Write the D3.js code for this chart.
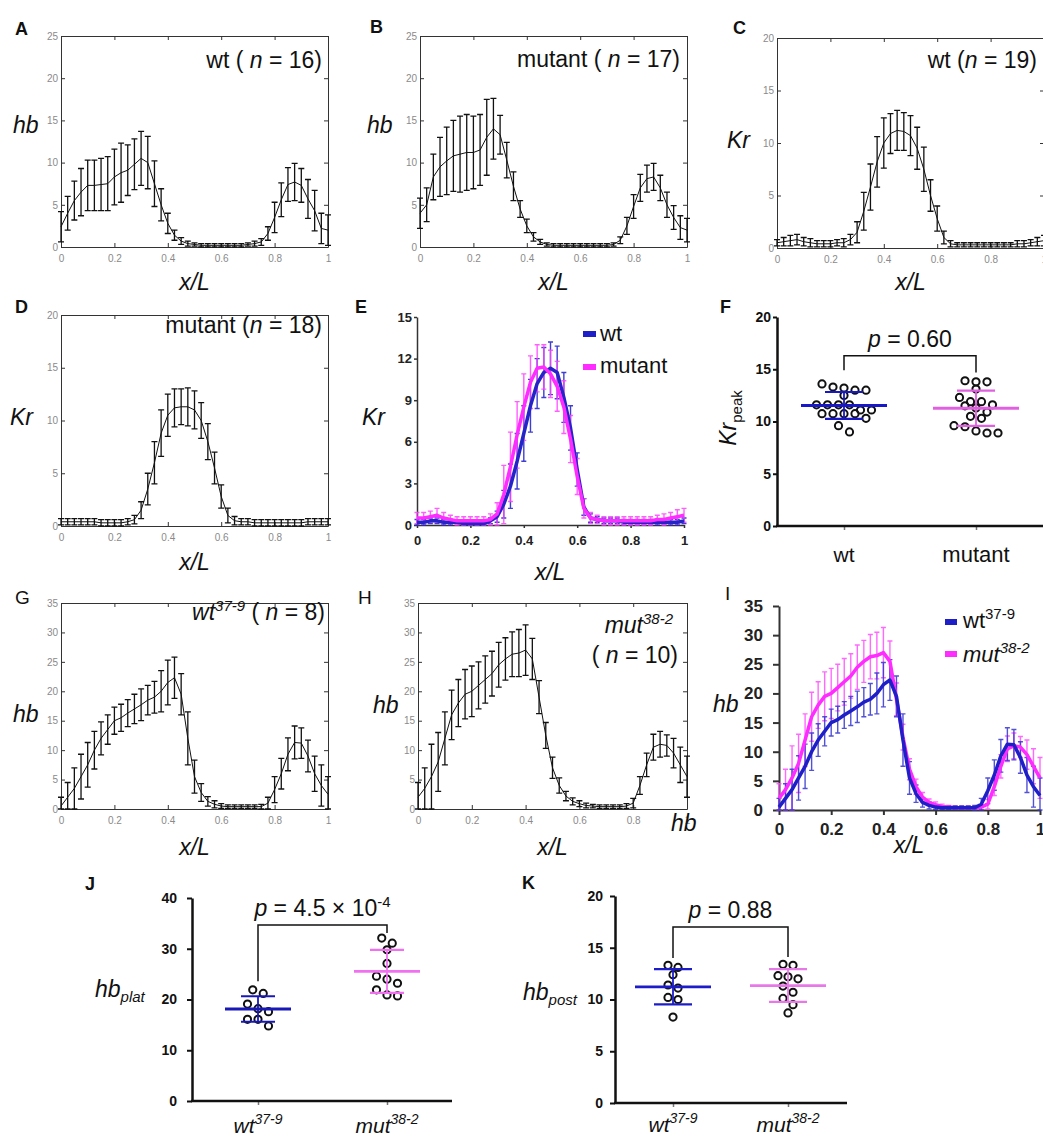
<!DOCTYPE html>
<html>
<head>
<meta charset="utf-8">
<script src="https://cdn.jsdelivr.net/npm/d3@7"></script>
<style>
  body { margin: 0; background: #fff; }
  svg { display: block; font-family: "Liberation Sans", Arial, sans-serif; }
  text { white-space: pre; }
</style>
</head>
<body>
<svg id="fig" width="1043" height="1137"></svg>
<script>
// bin positions along the embryo (x/L)
var xBins = [0, 0.025, 0.05, 0.075, 0.1, 0.125, 0.15, 0.175, 0.2, 0.225, 0.25, 0.275, 0.3, 0.325, 0.35, 0.375, 0.4, 0.425, 0.45, 0.475,
             0.5, 0.525, 0.55, 0.575, 0.6, 0.625, 0.65, 0.675, 0.7, 0.725, 0.75, 0.775, 0.8, 0.825, 0.85, 0.875, 0.9, 0.925, 0.95, 0.975, 1]

var xTicks = [0, 0.2, 0.4, 0.6, 0.8, 1],
    ticks25 = [0, 5, 10, 15, 20, 25],
    ticks20 = [0, 5, 10, 15, 20],
    ticks15 = [0, 3, 6, 9, 12, 15],
    ticks35 = [0, 5, 10, 15, 20, 25, 30, 35],
    ticks40 = [0, 10, 20, 30, 40]

// A: hb, wt (n = 16)
var hbWtMean = [2.4, 4.0, 5.5, 6.5, 7.3, 7.3, 7.4, 7.5, 8.3, 8.8, 9.1, 9.8, 10.5, 10.0, 7.5, 5.0, 2.8, 1.4, 0.7, 0.4,
                0.3, 0.2, 0.2, 0.2, 0.2, 0.2, 0.2, 0.2, 0.3, 0.4, 0.6, 1.6, 3.5, 5.6, 7.4, 7.7, 7.3, 5.7, 4.3, 2.2, 2.0]
var hbWtSd = [1.8, 2.0, 2.3, 2.8, 3.0, 3.0, 3.1, 3.2, 3.3, 3.5, 3.0, 3.0, 3.2, 3.1, 2.7, 1.9, 1.2, 0.6, 0.4, 0.3,
              0.2, 0.2, 0.2, 0.2, 0.2, 0.2, 0.2, 0.2, 0.2, 0.3, 0.4, 0.8, 1.8, 2.0, 2.0, 2.2, 2.0, 2.3, 2.4, 1.8, 1.8]
// B: hb, mutant (n = 17)
var hbMutMean = [4.0, 5.0, 8.3, 9.5, 10.2, 10.8, 11.0, 11.2, 11.2, 11.5, 13.0, 14.0, 13.3, 10.3, 7.2, 4.5, 2.5, 1.2, 0.6, 0.3,
                 0.2, 0.2, 0.2, 0.2, 0.2, 0.2, 0.2, 0.2, 0.2, 0.3, 0.8, 2.5, 4.8, 7.0, 8.1, 8.3, 7.0, 5.0, 3.5, 2.3, 2.0]
var hbMutSd = [1.8, 2.0, 2.7, 3.5, 4.0, 4.2, 4.5, 4.5, 4.3, 4.2, 4.5, 3.6, 2.3, 2.1, 1.7, 1.0, 0.8, 0.5, 0.3, 0.2,
               0.2, 0.2, 0.2, 0.2, 0.2, 0.2, 0.2, 0.2, 0.2, 0.2, 0.4, 1.0, 1.4, 1.6, 1.6, 1.6, 1.5, 1.5, 1.4, 1.4, 1.4]
// C: Kr, wt (n = 19)
var krWtMean = [0.5, 0.6, 0.7, 0.8, 0.6, 0.5, 0.4, 0.4, 0.4, 0.5, 0.5, 0.8, 1.5, 3.5, 5.8, 8.2, 10.0, 10.9, 11.2, 11.1,
                10.7, 9.5, 7.5, 5.0, 2.8, 1.0, 0.4, 0.3, 0.3, 0.3, 0.3, 0.3, 0.3, 0.3, 0.3, 0.3, 0.4, 0.4, 0.5, 0.6, 0.7]
var krWtSd = [0.3, 0.4, 0.5, 0.5, 0.4, 0.4, 0.3, 0.3, 0.3, 0.3, 0.4, 0.5, 1.0, 1.8, 2.2, 2.4, 2.4, 1.9, 1.9, 1.8,
              1.9, 2.0, 2.1, 1.5, 1.2, 0.6, 0.3, 0.2, 0.2, 0.2, 0.2, 0.2, 0.2, 0.2, 0.2, 0.2, 0.3, 0.3, 0.3, 0.4, 0.5]
// D: Kr, mutant (n = 18)
var krMutMean = [0.4, 0.4, 0.4, 0.4, 0.4, 0.4, 0.3, 0.3, 0.3, 0.3, 0.4, 0.6, 1.5, 3.5, 6.0, 8.8, 10.5, 11.2, 11.3, 11.3,
                 11.0, 10.0, 8.0, 5.5, 2.8, 1.0, 0.5, 0.4, 0.4, 0.3, 0.3, 0.3, 0.3, 0.3, 0.3, 0.3, 0.3, 0.4, 0.4, 0.4, 0.4]
var krMutSd = [0.3, 0.3, 0.3, 0.3, 0.3, 0.3, 0.3, 0.3, 0.3, 0.3, 0.3, 0.4, 0.8, 1.5, 2.0, 2.2, 2.0, 1.8, 1.7, 1.8,
               1.8, 1.7, 1.7, 1.5, 1.1, 0.7, 0.4, 0.3, 0.3, 0.3, 0.3, 0.3, 0.3, 0.3, 0.3, 0.3, 0.3, 0.3, 0.3, 0.3, 0.3]
// E: Kr overlay
var eWtMean = [0.2, 0.2, 0.3, 0.3, 0.2, 0.2, 0.2, 0.1, 0.1, 0.1, 0.1, 0.3, 0.6, 1.5, 2.8, 4.6, 6.6, 8.6, 10.2, 11.0,
               11.3, 11.0, 9.2, 7.0, 4.0, 1.3, 0.5, 0.4, 0.3, 0.3, 0.3, 0.2, 0.2, 0.2, 0.2, 0.2, 0.2, 0.2, 0.2, 0.2, 0.3]
var eWtSd = [0.2, 0.2, 0.2, 0.2, 0.2, 0.2, 0.1, 0.1, 0.1, 0.1, 0.1, 0.2, 0.4, 1.0, 1.6, 2.0, 2.0, 1.9, 1.8, 1.8,
             1.9, 1.9, 1.8, 1.6, 1.2, 0.6, 0.3, 0.2, 0.2, 0.2, 0.2, 0.2, 0.2, 0.2, 0.2, 0.2, 0.2, 0.2, 0.2, 0.2, 0.2]
var eMutMean = [0.5, 0.5, 0.6, 0.7, 0.5, 0.4, 0.3, 0.3, 0.3, 0.3, 0.3, 0.4, 0.8, 2.2, 4.2, 6.5, 8.5, 10.3, 11.3, 11.4,
                10.9, 10.0, 8.5, 6.2, 3.5, 1.2, 0.5, 0.4, 0.3, 0.3, 0.3, 0.3, 0.3, 0.3, 0.3, 0.3, 0.4, 0.4, 0.5, 0.6, 0.7]
var eMutSd = [0.4, 0.4, 0.4, 0.5, 0.4, 0.3, 0.3, 0.3, 0.3, 0.3, 0.3, 0.4, 0.8, 2.1, 2.5, 2.4, 2.4, 1.9, 1.7, 1.6,
              1.7, 1.8, 1.9, 1.7, 1.3, 0.7, 0.4, 0.3, 0.3, 0.3, 0.3, 0.3, 0.3, 0.3, 0.3, 0.3, 0.3, 0.4, 0.4, 0.5, 0.5]
// G: hb, wt37-9 (n = 8)
var hbWt379Mean = [0.5, 2.0, 3.5, 5.5, 7.5, 10.0, 12.0, 13.5, 15.0, 15.5, 16.3, 17.0, 17.7, 18.5, 19.0, 20.0, 21.5, 22.3, 19.5, 12.0,
                   5.5, 2.8, 1.3, 0.8, 0.5, 0.4, 0.4, 0.4, 0.4, 0.4, 0.4, 1.0, 3.3, 6.0, 9.3, 11.3, 11.2, 9.0, 6.0, 4.0, 2.5]
var hbWt379Sd = [1.5, 2.5, 3.5, 3.8, 3.8, 3.2, 2.8, 2.5, 2.3, 2.3, 2.3, 2.5, 2.7, 2.5, 2.7, 3.5, 3.8, 3.5, 3.5, 4.5,
                 2.8, 1.5, 0.8, 0.6, 0.4, 0.3, 0.3, 0.3, 0.3, 0.3, 0.4, 1.0, 2.2, 2.6, 2.8, 2.8, 2.6, 2.7, 3.0, 3.5, 3.0]
// H: hb, mut38-2 (n = 10)
var hbMut382Mean = [2.0, 3.5, 5.5, 8.0, 12.0, 16.0, 18.0, 19.5, 20.0, 21.0, 22.0, 23.0, 24.5, 25.5, 26.3, 26.5, 27.0, 25.5, 19.0, 12.5,
                    7.0, 4.0, 2.2, 1.3, 0.9, 0.6, 0.5, 0.4, 0.4, 0.4, 0.4, 0.5, 1.0, 4.0, 7.5, 10.5, 11.0, 10.8, 9.5, 7.5, 5.5]
var hbMut382Sd = [2.5, 3.5, 5.5, 5.0, 4.5, 4.2, 4.0, 4.2, 4.3, 4.0, 4.0, 3.8, 3.8, 3.6, 3.8, 4.0, 4.3, 3.5, 2.8, 2.2,
                  1.8, 1.3, 0.8, 0.6, 0.5, 0.4, 0.3, 0.3, 0.3, 0.3, 0.3, 0.4, 0.8, 1.5, 2.0, 2.2, 2.2, 1.8, 2.5, 3.0, 3.5]

// F, J, K: per-embryo values
var krPeakWt = [13.2, 13.0, 13.6, 13.0, 13.3, 12.5, 11.6, 11.6, 11.6, 11.6, 11.1, 11.1, 10.75, 10.75, 10.75, 10.75, 10.3, 9.6, 9.0]
var krPeakMut = [13.8, 13.9, 13.8, 13.1, 12.3, 11.9, 11.9, 11.5, 11.3, 11.6, 10.5, 10.9, 10.3, 9.6, 9.1, 8.9, 8.9, 9.5]
var hbPlatWt = [21.2, 21.9, 18.2, 19.1, 17.6, 16.1, 16.1, 14.8]
var hbPlatMut = [32.1, 31.1, 29.8, 27.1, 24.6, 24.0, 23.2, 21.9, 20.7, 20.9]
var hbPostWt = [13.1, 13.3, 12.4, 11.1, 11.4, 10.2, 10.0, 8.3]
var hbPostMut = [13.3, 13.4, 12.2, 12.3, 12.0, 10.7, 11.3, 10.1, 9.5, 8.7]

var svg = d3.select('#fig'),
    font = '"Liberation Sans", Arial, sans-serif',
    blue = '#1f1fc8', magenta = '#ff2cff',
    plain = function (d) { return String(d) }

// parts: [text, italic, size, dy]
function rich(parent, x, y, size, parts, anchor) {
    var t = parent.append('text').attr('x', x).attr('y', y).attr('font-size', size)
        .attr('text-anchor', anchor || 'start').attr('fill', '#111')
    parts.forEach(function (p) {
        var s = t.append('tspan').text(p[0])
        if (p[1]) s.attr('font-style', 'italic')
        if (p[2]) s.attr('font-size', p[2])
        if (p[3]) s.attr('dy', p[3])
    })
    return t
}

function letter(txt, x, y, bold) {
    rich(svg, x, y, bold ? 18 : 19, [[txt]]).attr('font-weight', bold ? 'bold' : 'normal')
}

function errorBars(g, x, y, mean, sd, color, cap, width, opacity) {
    g.append('g').attr('stroke', color).attr('stroke-width', width).attr('opacity', opacity || 1).attr('fill', 'none')
        .selectAll('path').data(mean).join('path')
        .attr('d', function (m, i) {
            var cx = x(xBins[i]), lo = y(m - sd[i]), hi = y(m + sd[i])
            return 'M' + (cx - cap) + ',' + hi + 'H' + (cx + cap) + 'M' + cx + ',' + hi + 'V' + lo +
                'M' + (cx - cap) + ',' + lo + 'H' + (cx + cap)
        })
}

function meanLine(g, x, y, mean, color, width) {
    g.append('path').datum(mean).attr('fill', 'none').attr('stroke', color).attr('stroke-width', width)
        .attr('stroke-linejoin', 'round')
        .attr('d', d3.line().x(function (d, i) { return x(xBins[i]) }).y(function (d) { return y(d) }))
}

// MATLAB style box panel (A-D, G, H)
function profilePanel(o) {
    var x = d3.scaleLinear().domain([0, 1]).range([o.left, o.right]),
        y = d3.scaleLinear().domain([0, o.ymax]).range([o.bottom, o.top]).clamp(true),
        g = svg.append('g')

    var axes = [
        [d3.axisBottom(x).tickValues(xTicks).tickFormat(plain).tickPadding(8), 'translate(0,' + o.bottom + ')'],
        [d3.axisTop(x).tickValues(xTicks).tickFormat(''), 'translate(0,' + o.top + ')'],
        [d3.axisLeft(y).tickValues(o.yTicks).tickFormat(plain).tickPadding(3), 'translate(' + o.left + ',0)'],
        [d3.axisRight(y).tickValues(o.yTicks).tickFormat(''), 'translate(' + o.right + ',0)']
    ]
    axes.forEach(function (a) {
        var ax = g.append('g').attr('transform', a[1]).call(a[0].tickSize(-4).tickSizeOuter(0))
        ax.attr('font-family', font).attr('font-size', 10)
        ax.select('.domain').attr('stroke', '#333')
        ax.selectAll('.tick line').attr('stroke', '#333')
        ax.selectAll('.tick text').attr('fill', '#8a8a8a')
    })

    errorBars(g, x, y, o.mean, o.sd, '#111', 3, 1.3)
    meanLine(g, x, y, o.mean, '#111', 1)

    rich(svg, o.yLabel[1], o.yLabel[2], 23, [[o.yLabel[0], 1]])
    rich(svg, (o.left + o.right) / 2, o.xLabelY, 23, [['x/L', 1]], 'middle')
}

// overlay panel with two coloured series (E, I)
function overlayPanel(o) {
    var x = d3.scaleLinear().domain([0, 1]).range([o.left, o.right]),
        y = d3.scaleLinear().domain([0, o.ymax]).range([o.bottom, o.top]).clamp(true),
        g = svg.append('g')

    var left = g.append('g').attr('transform', 'translate(' + o.left + ',0)')
        .call(d3.axisLeft(y).tickValues(o.yTicks).tickFormat(plain).tickSize(o.tickY).tickSizeOuter(0).tickPadding(o.padY))
    var bottom = g.append('g').attr('transform', 'translate(0,' + o.bottom + ')')
        .call(d3.axisBottom(x).tickValues(xTicks).tickFormat(plain).tickSize(o.tickX).tickSizeOuter(0).tickPadding(o.padX))
    ;[left, bottom].forEach(function (ax) {
        ax.attr('font-family', font).attr('font-size', o.fs).attr('font-weight', 'bold')
        ax.select('.domain').attr('stroke', '#333').attr('stroke-width', o.axisW)
        ax.selectAll('.tick line').attr('stroke', '#333').attr('stroke-width', o.axisW)
        ax.selectAll('.tick text').attr('fill', '#222')
    })

    o.bars.forEach(function (b) { errorBars(g, x, y, b[0], b[1], b[2], 2.5, 1.4, b[3]) })
    o.lines.forEach(function (l) { meanLine(g, x, y, l[0], l[1], 3.5) })
}

// scatter dot panel with mean +/- SD (F, J, K)
function swarm(values, y, gap, step) {
    var rows = [], out = []
    values.slice().sort(d3.descending).forEach(function (v) {
        var row = rows[rows.length - 1]
        if (row && y(v) - y(row[0]) < gap) row.push(v)
        else rows.push([v])
    })
    rows.forEach(function (row) {
        row.forEach(function (v, j) { out.push({ v: v, dx: (j - (row.length - 1) / 2) * step }) })
    })
    return out
}

function dotPanel(o) {
    var y = d3.scaleLinear().domain([0, o.ymax]).range([o.bottom, o.top]),
        x = d3.scalePoint().domain(o.cats.map(function (c) { return c.name })).range([o.c0, o.c1]),
        g = svg.append('g')

    var left = g.append('g').attr('transform', 'translate(' + o.left + ',0)')
        .call(d3.axisLeft(y).tickValues(o.yTicks).tickSize(o.tick).tickSizeOuter(0).tickPadding(o.pad))
    left.attr('font-family', font).attr('font-size', o.fs).attr('font-weight', 'bold')
    left.select('.domain').attr('stroke', '#111').attr('stroke-width', 2.5)
    left.selectAll('.tick line').attr('stroke', '#111').attr('stroke-width', 2)
    left.selectAll('.tick text').attr('fill', '#111')

    var bottom = g.append('g').attr('transform', 'translate(0,' + o.bottom + ')')
        .call(d3.axisBottom(x).tickSize(4).tickFormat(''))
    bottom.select('.domain').remove()
    bottom.selectAll('.tick line').attr('stroke', '#777').attr('stroke-width', 1.5)
    g.append('line').attr('x1', o.left - 1).attr('x2', o.right).attr('y1', o.bottom).attr('y2', o.bottom)
        .attr('stroke', '#111').attr('stroke-width', 2.5)

    o.cats.forEach(function (c) {
        var cx = x(c.name), m = d3.mean(c.values), s = d3.deviation(c.values)
        g.append('g').selectAll('circle').data(swarm(c.values, y, 8, o.step)).join('circle')
            .attr('cx', function (d) { return cx + d.dx }).attr('cy', function (d) { return y(d.v) })
            .attr('r', 3.6).attr('fill', 'none').attr('stroke', '#111').attr('stroke-width', 2)
        var sg = g.append('g').attr('stroke', c.color).attr('fill', 'none')
        sg.append('line').attr('x1', cx - o.meanHalf).attr('x2', cx + o.meanHalf).attr('y1', y(m)).attr('y2', y(m)).attr('stroke-width', 2.8)
        ;[m + s, m - s].forEach(function (v) {
            sg.append('line').attr('x1', cx - o.sdHalf).attr('x2', cx + o.sdHalf).attr('y1', y(v)).attr('y2', y(v)).attr('stroke-width', 2.2)
        })
        sg.append('line').attr('x1', cx).attr('x2', cx).attr('y1', y(m + s)).attr('y2', y(m - s)).attr('stroke-width', 1.8)
        rich(svg, cx, o.labelY, c.size, c.label, 'middle')
    })

    var b = o.bracket, x0 = x(o.cats[0].name), x1 = x(o.cats[1].name)
    g.append('path').attr('fill', 'none').attr('stroke', '#111').attr('stroke-width', 1.5)
        .attr('d', 'M' + x0 + ',' + y(b[1]) + 'V' + y(b[0]) + 'H' + x1 + 'V' + y(b[2]))
    rich(svg, (x0 + x1) / 2, y(b[0]) - 9, 23, o.pText, 'middle')
}

// ---- A ----
letter('A', 15, 35, true)
profilePanel({ left: 61, right: 328, top: 36, bottom: 247, ymax: 25, yTicks: ticks25,
    mean: hbWtMean, sd: hbWtSd, yLabel: ['hb', 13, 133], xLabelY: 290 })
rich(svg, 322, 68, 23, [['wt ( '], ['n', 1], [' = 16)']], 'end')

// ---- B ----
letter('B', 370, 33, true)
profilePanel({ left: 420, right: 687, top: 36, bottom: 247, ymax: 25, yTicks: ticks25,
    mean: hbMutMean, sd: hbMutSd, yLabel: ['hb', 367, 133], xLabelY: 290 })
rich(svg, 680, 67, 23, [['mutant ( '], ['n', 1], [' = 17)']], 'end')

// ---- C ----
letter('C', 733, 34, true)
profilePanel({ left: 777, right: 1044, top: 38, bottom: 248, ymax: 20, yTicks: ticks20,
    mean: krWtMean, sd: krWtSd, yLabel: ['Kr', 727, 148], xLabelY: 290 })
rich(svg, 1037, 68, 23, [['wt ('], ['n', 1], [' = 19)']], 'end')

// ---- D ----
letter('D', 15, 313, true)
profilePanel({ left: 61, right: 328, top: 315, bottom: 526, ymax: 20, yTicks: ticks20,
    mean: krMutMean, sd: krMutSd, yLabel: ['Kr', 10, 425], xLabelY: 570 })
rich(svg, 322, 333, 23, [['mutant ('], ['n', 1], [' = 18)']], 'end')

// ---- E ----
letter('E', 355, 313, true)
overlayPanel({ left: 417, right: 684, top: 317, bottom: 525, ymax: 15, yTicks: ticks15,
    fs: 13, axisW: 1.5, tickY: 3, padY: 2, tickX: 3, padX: 8,
    bars: [[eWtMean, eWtSd, '#2a2ad0', 0.9], [eMutMean, eMutSd, '#ff44ff', 0.85]],
    lines: [[eWtMean, '#2424c8'], [eMutMean, magenta]] })
rich(svg, 362, 425, 23, [['Kr', 1]])
rich(svg, 550, 580, 23, [['x/L', 1]], 'middle')
svg.append('rect').attr('x', 583).attr('y', 331).attr('width', 13).attr('height', 6).attr('fill', blue)
svg.append('rect').attr('x', 583).attr('y', 364).attr('width', 13).attr('height', 6).attr('fill', magenta)
rich(svg, 600, 341, 22, [['wt']])
rich(svg, 600, 373, 22, [['mutant']])

// ---- F ----
letter('F', 720, 313, true)
dotPanel({ left: 777, right: 1043, top: 317, bottom: 526, ymax: 20, yTicks: ticks20, fs: 14, tick: 4, pad: 2,
    c0: 844, c1: 976, meanHalf: 43, sdHalf: 19, step: 11, labelY: 562, bracket: [16.3, 14.9, 14.7],
    pText: [['p', 1], [' = 0.60']],
    cats: [{ name: 'wt', values: krPeakWt, color: '#1818c8', size: 21, label: [['wt']] },
           { name: 'mutant', values: krPeakMut, color: '#e060e0', size: 22, label: [['mutant']] }] })
rich(svg, 0, 0, 23, [['Kr', 1], ['peak', 0, 15, 6]], 'middle').attr('transform', 'translate(736,418) rotate(-90)')

// ---- G ----
letter('G', 15, 604, false)
profilePanel({ left: 61, right: 328, top: 603, bottom: 809, ymax: 35, yTicks: ticks35,
    mean: hbWt379Mean, sd: hbWt379Sd, yLabel: ['hb', 13, 722], xLabelY: 855 })
rich(svg, 325, 620, 23, [['wt', 1], ['37-9', 1, 15, -9], [' ( ', 0, null, 9], ['n', 1], [' = 8)']], 'end')

// ---- H ----
letter('H', 358, 604, false)
profilePanel({ left: 418, right: 687, top: 603, bottom: 809, ymax: 35, yTicks: ticks35,
    mean: hbMut382Mean, sd: hbMut382Sd, yLabel: ['hb', 373, 713], xLabelY: 855 })
rich(svg, 673, 633, 23, [['mut', 1], ['38-2', 1, 15, -9]], 'end')
rich(svg, 678, 663, 23, [['( '], ['n', 1], [' = 10)']], 'end')
rich(svg, 671, 831, 23, [['hb', 1]])

// ---- I ----
letter('I', 725, 600, false)
overlayPanel({ left: 779, right: 1040, top: 606, bottom: 810, ymax: 35, yTicks: ticks35,
    fs: 17, axisW: 2, tickY: 6, padY: 10, tickX: 5, padX: 8,
    bars: [[hbMut382Mean, hbMut382Sd, '#ff50ff', 0.85], [hbWt379Mean, hbWt379Sd, '#3434d0', 0.85]],
    lines: [[hbMut382Mean, magenta], [hbWt379Mean, blue]] })
rich(svg, 713, 712, 23, [['hb', 1]])
rich(svg, 909, 853, 23, [['x/L', 1]], 'middle')
svg.append('rect').attr('x', 945).attr('y', 619).attr('width', 12).attr('height', 6).attr('fill', blue)
svg.append('rect').attr('x', 945).attr('y', 651).attr('width', 12).attr('height', 6).attr('fill', magenta)
rich(svg, 963, 628, 22, [['wt'], ['37-9', 0, 15, -9]])
rich(svg, 963, 662, 22, [['mut', 1], ['38-2', 1, 15, -9]])

// ---- J ----
letter('J', 85, 890, true)
dotPanel({ left: 192, right: 452, top: 898, bottom: 1101, ymax: 40, yTicks: ticks40, fs: 14, tick: 5, pad: 10,
    c0: 258, c1: 387, meanHalf: 33, sdHalf: 17, step: 10.5, labelY: 1133, bracket: [34.7, 23.6, 33.1],
    pText: [['p', 1], [' = 4.5 \u00d7 10'], ['-4', 0, 15, -9]],
    cats: [{ name: 'wt', values: hbPlatWt, color: '#1818b8', size: 21, label: [['wt', 1], ['37-9', 1, 14, -9]] },
           { name: 'mut', values: hbPlatMut, color: '#f070f0', size: 21, label: [['mut', 1], ['38-2', 1, 14, -9]] }] })
rich(svg, 95, 997, 23, [['hb', 1], ['plat', 1, 15, 5]])

// ---- K ----
letter('K', 522, 889, true)
dotPanel({ left: 615, right: 847, top: 896, bottom: 1103, ymax: 20, yTicks: ticks20, fs: 14, tick: 5, pad: 7,
    c0: 673, c1: 788, meanHalf: 38, sdHalf: 19, step: 10, labelY: 1132, bracket: [17.0, 14.0, 14.1],
    pText: [['p', 1], [' = 0.88']],
    cats: [{ name: 'wt', values: hbPostWt, color: '#1c1cc8', size: 21, label: [['wt', 1], ['37-9', 1, 14, -9]] },
           { name: 'mut', values: hbPostMut, color: '#e878e8', size: 21, label: [['mut', 1], ['38-2', 1, 14, -9]] }] })
rich(svg, 523, 1000, 23, [['hb', 1], ['post', 1, 15, 5]])
</script>
</body>
</html>
